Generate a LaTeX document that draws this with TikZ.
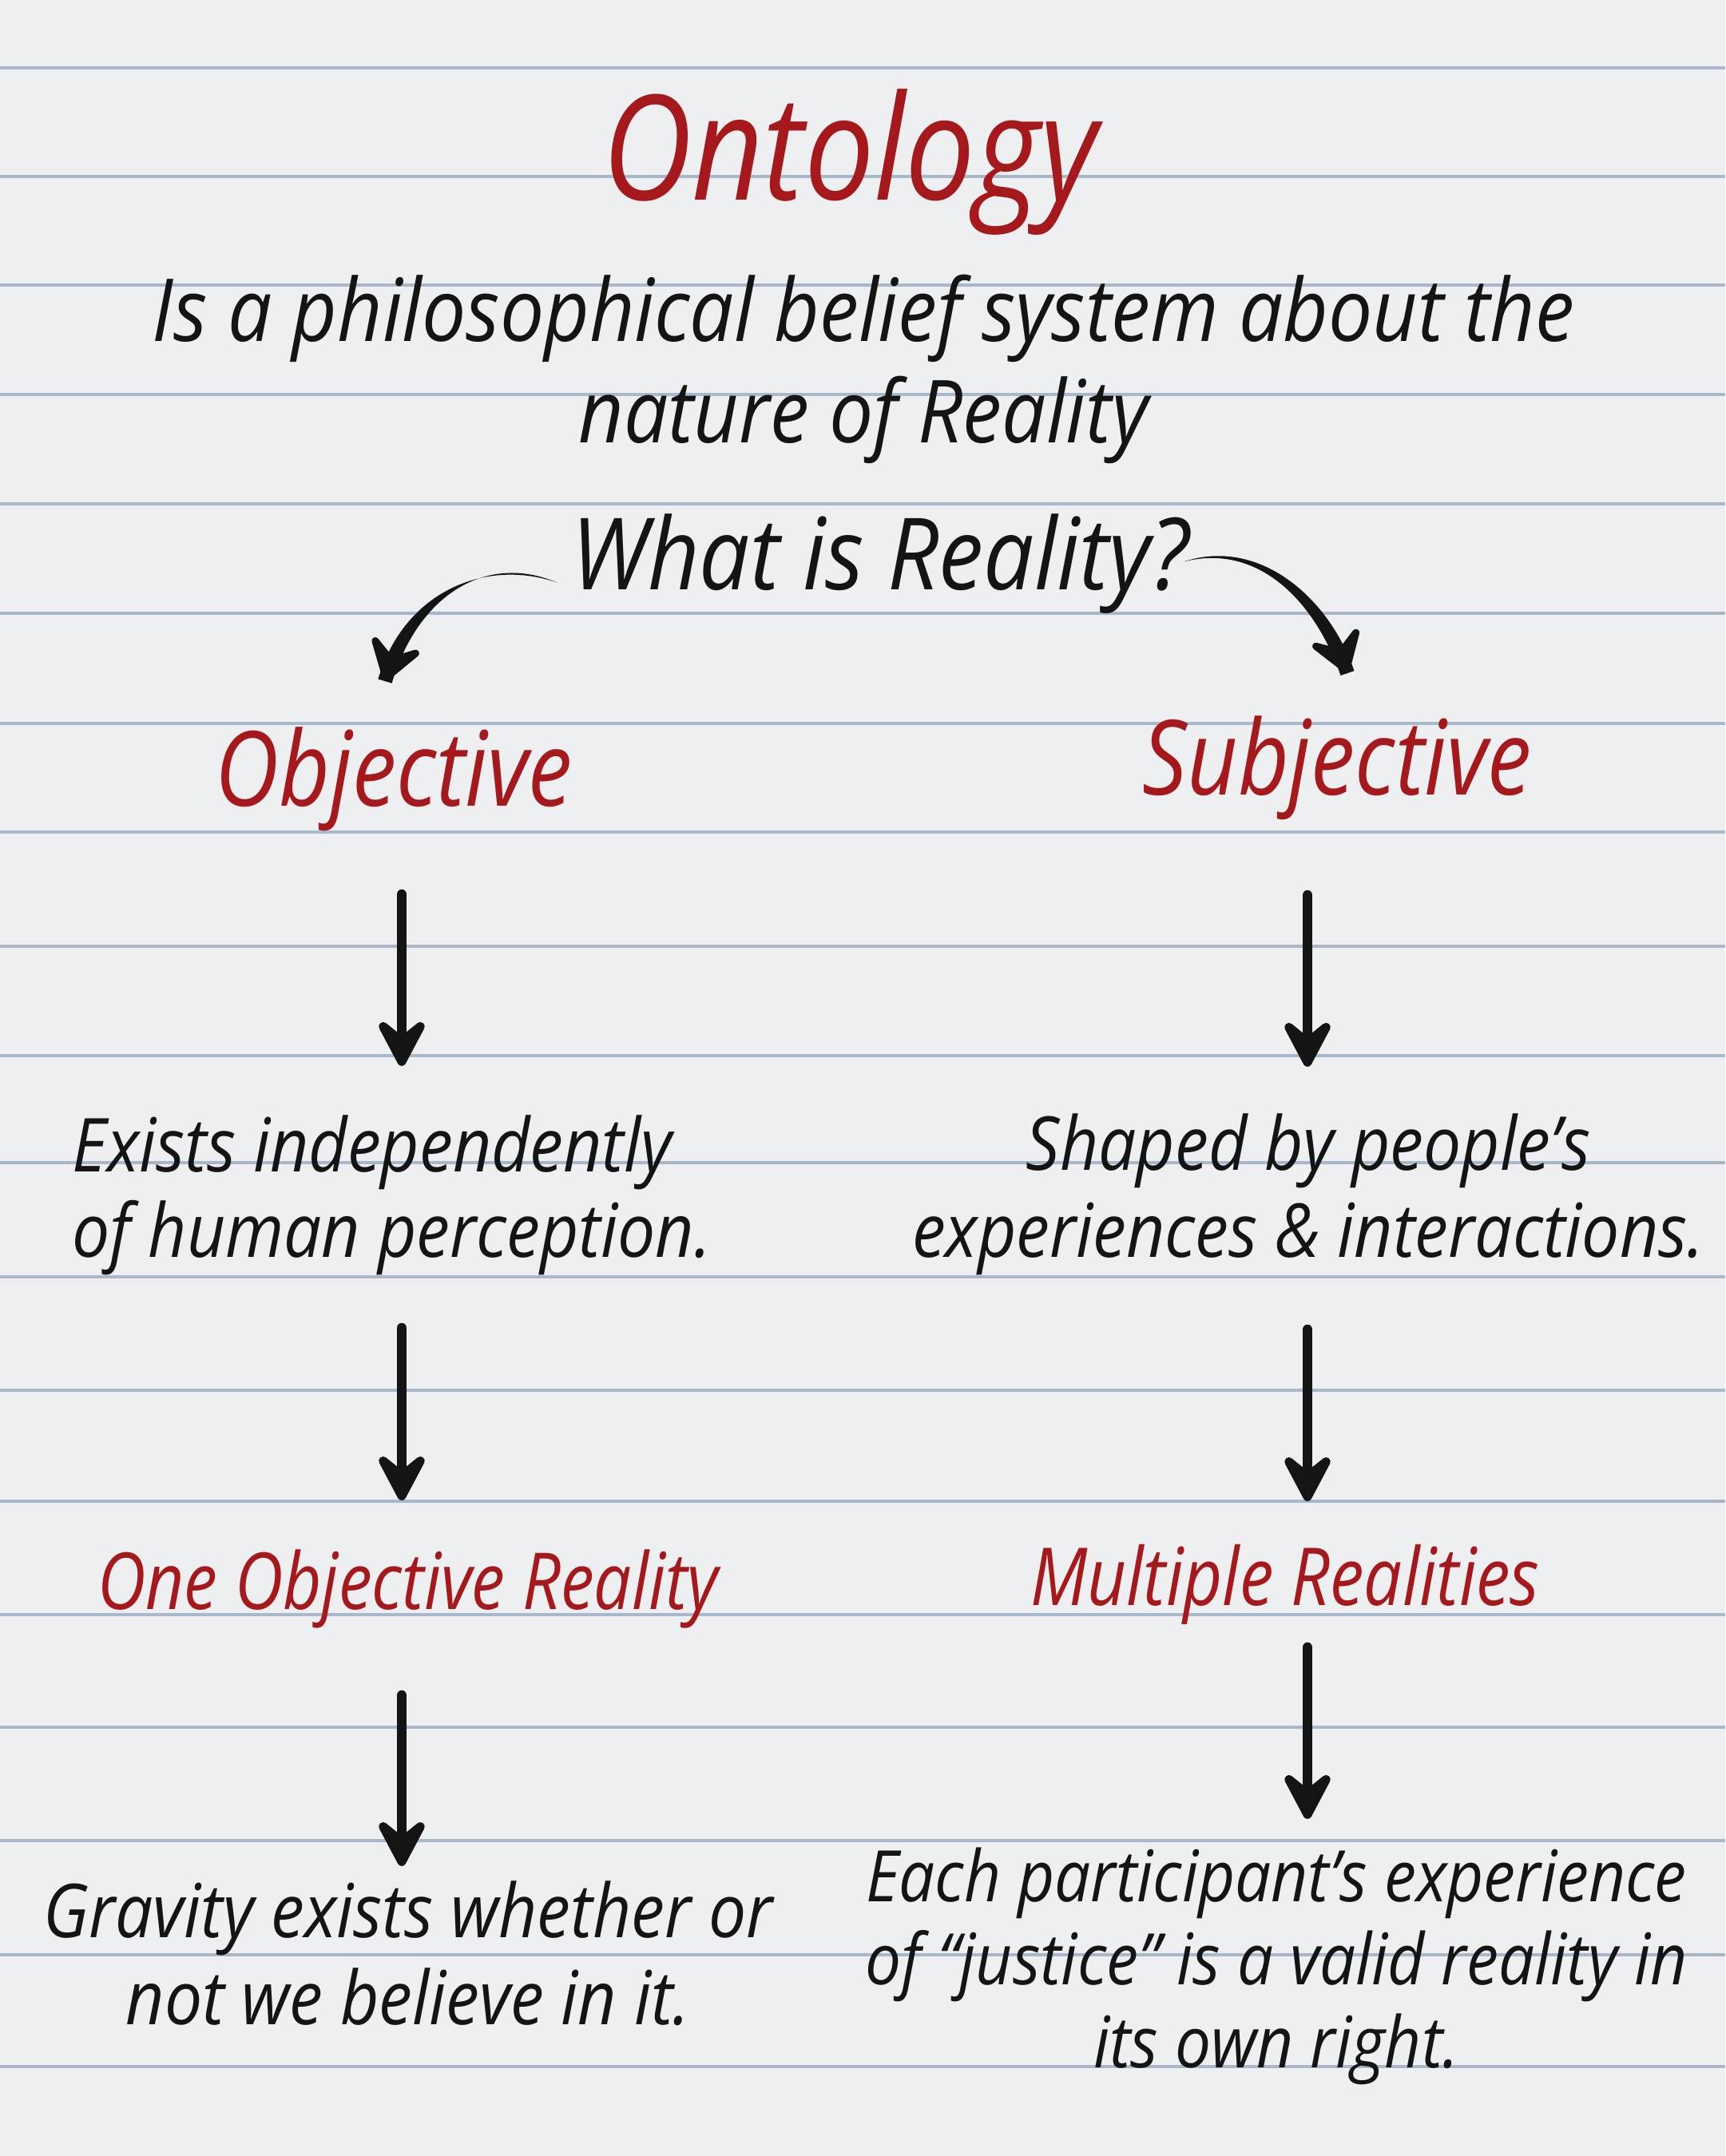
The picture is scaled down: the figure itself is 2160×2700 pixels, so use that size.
\documentclass[tikz,border=0pt]{standalone}
\usepackage{fontspec}
\setmainfont{Open Sans}
\newfontfamily\hand[FakeStretch=0.9]{Open Sans}
\newfontfamily\handr[FakeStretch=0.85]{Open Sans}
\usetikzlibrary{arrows.meta,calc}
\definecolor{paper}{HTML}{EDEFF1}
\definecolor{rulecol}{HTML}{A9B7CB}
\definecolor{ink}{HTML}{141414}
\definecolor{redink}{HTML}{A5191D}
\begin{document}
\begin{tikzpicture}[x=0.01cm,y=-0.01cm,
  txt/.style={inner sep=0pt, text=ink, anchor=base},
  redtxt/.style={txt, text=redink},
  arr/.style={draw=ink, line width=3.6pt, line cap=round,
    -{Stealth[length=7.6mm,width=8mm,inset=3.2mm,round]}},
  curvetip/.style={draw=ink, line width=3.2pt, line cap=round,
    -{Stealth[length=6.4mm,width=8.4mm,inset=2.8mm,round]}},
  ruleline/.style={draw=rulecol, line width=1.3pt}]
\fill[paper] (0,0) rectangle (2160,2700);
\useasboundingbox (0,0) rectangle (2160,2700);
\foreach \yy in {85,221,357,494,631,768,906,1042,1185,1322,1456,1599,1741,1880,2022,2163,2305,2448,2588}
  \draw[ruleline] (0,\yy) -- (2160,\yy);

\coordinate (xL) at (503,0);
\coordinate (xR) at (1637,0);

% multi-line nodes: anchor=base is the baseline of the last line
\node[redtxt, font=\handr\itshape\fontsize{52}{60}\selectfont] (title) at (1064,250) {Ontology};
\node[txt, align=center, font=\hand\itshape\fontsize{31}{36}\selectfont] (desc) at (1081,554)
  {Is a philosophical belief system about the\\nature of Reality};
\node[txt, font=\hand\itshape\fontsize{35.5}{40}\selectfont] (what) at (1102,738) {What is Reality?};

\node[redtxt, font=\handr\itshape\fontsize{37}{42}\selectfont] (obj) at (493,1009) {Objective};
\node[redtxt, font=\handr\itshape\fontsize{37}{42}\selectfont] (subj) at (1674,995) {Subjective};

\node[txt, anchor=base west, align=left, font=\hand\itshape\fontsize{26.5}{30.2}\selectfont] (exists) at (90,1574)
  {Exists independently\\of human perception.};
\node[txt, align=center, font=\hand\itshape\fontsize{26.5}{31}\selectfont] (shaped) at (1638,1574)
  {Shaped by people’s\\experiences \& interactions.};

\node[redtxt, font=\handr\itshape\fontsize{28}{32}\selectfont] (one) at (511,2015) {One Objective Reality};
\node[redtxt, font=\handr\itshape\fontsize{28.5}{32}\selectfont] (multi) at (1609,2010) {Multiple Realities};

\node[txt, align=center, font=\hand\itshape\fontsize{26.5}{31}\selectfont] (gravity) at (511,2535)
  {Gravity exists whether or\\not we believe in it.};
\node[txt, align=center, font=\hand\itshape\fontsize{25.3}{29.5}\selectfont] (each) at (1598,2589)
  {Each participant’s experience\\of “justice” is a valid reality in\\its own right.};

% curved, tapered arrows from the question to the two branches
\coordinate (wl) at ($(what.west)+(-17,24)$);
\coordinate (tl) at ($(obj.base)+(-11,-156)$);
\fill[ink] (wl) .. controls (610,692) and (523.5,744) .. ($(tl)+(8.6,2.6)$)
  -- ($(tl)-(8.6,2.6)$) .. controls (506.5,739) and (610,699) .. (wl);
\draw[curvetip] ($(tl)+(5.3,-17.2)$) -- (tl);

\coordinate (wr) at ($(what.east)+(-8,-2)$);
\coordinate (tr) at ($(subj.base)+(13,-152)$);
\fill[ink] (wr) .. controls (1575,672) and (1663.5,747) .. ($(tr)+(8.5,-2.9)$)
  -- ($(tr)-(8.5,-2.9)$) .. controls (1646.5,753) and (1575,679) .. (wr);
\draw[curvetip] ($(tr)-(5.8,17)$) -- (tr);

% straight arrows
\draw[arr, shorten <=11.1mm, shorten >=23.9mm] (obj.base -| xL) -- (exists.base -| xL);
\draw[arr, shorten <=12.6mm, shorten >=23.8mm] (subj.base -| xR) -- (shaped.base -| xR);
\draw[arr, shorten <=8.9mm, shorten >=13.6mm] (exists.base -| xL) -- (one.base -| xL);
\draw[arr, shorten <=9.1mm, shorten >=13.0mm] (shaped.base -| xR) -- (multi.base -| xR);
\draw[arr, shorten <=10.8mm, shorten >=19.8mm] (one.base -| xL) -- (gravity.base -| xL);
\draw[arr, shorten <=5.3mm, shorten >=31.1mm] (multi.base -| xR) -- (each.base -| xR);
\end{tikzpicture}
\end{document}
